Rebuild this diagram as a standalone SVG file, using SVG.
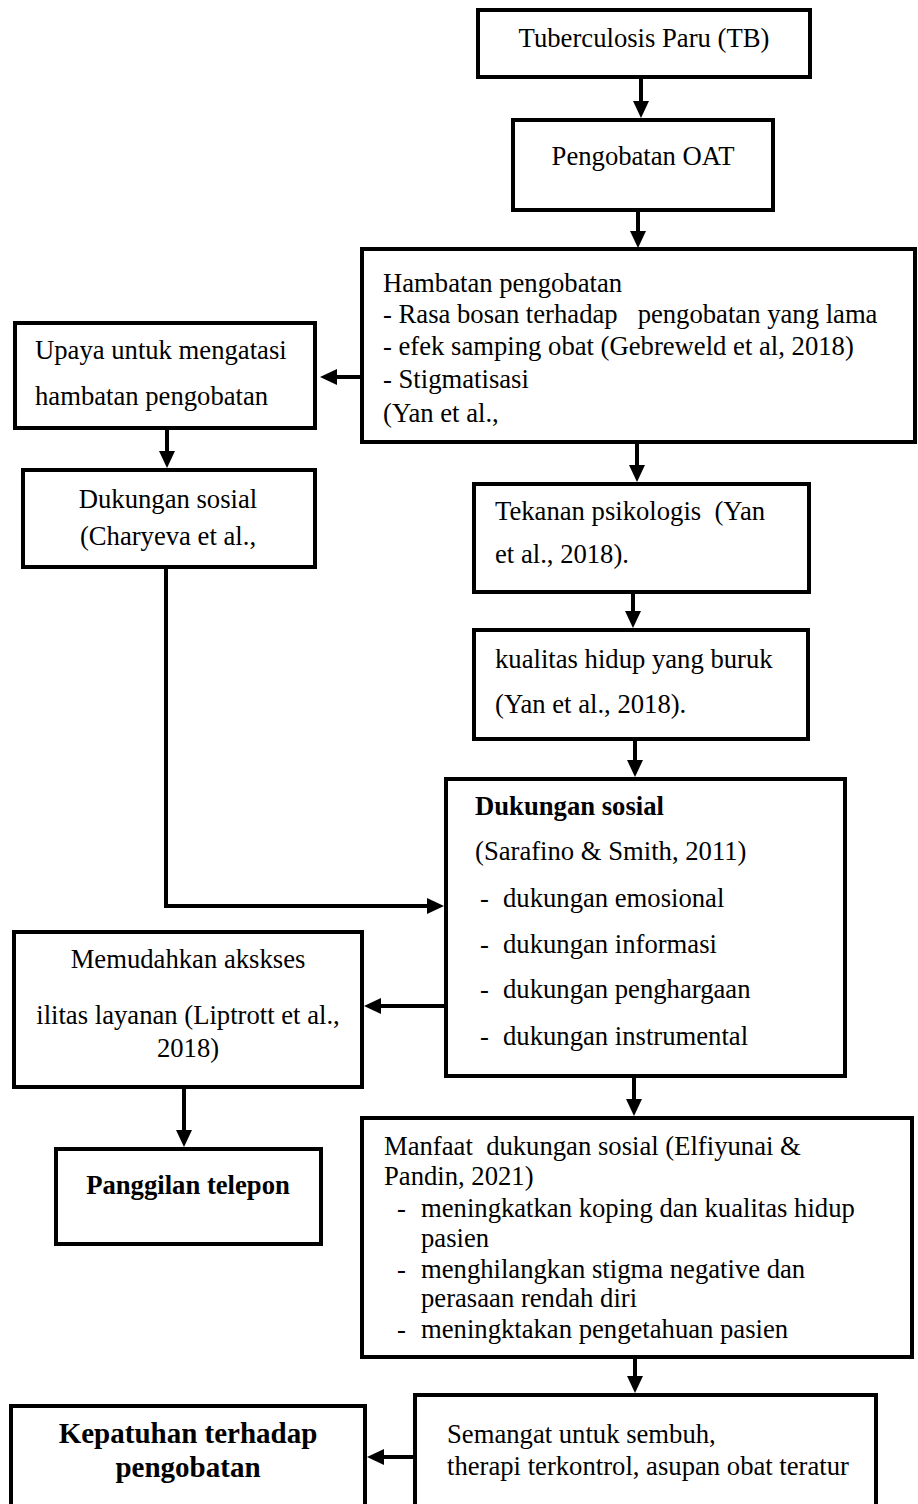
<svg xmlns="http://www.w3.org/2000/svg" width="918" height="1504" viewBox="0 0 918 1504">
<style>
.box{fill:#fff;stroke:#000;stroke-width:4}
.t{font-family:"Liberation Serif","Times New Roman",serif;font-size:26.67px;fill:#000;white-space:pre}
.c{text-anchor:middle}
.b{font-weight:bold}
.ln{fill:none;stroke:#000;stroke-width:4}
</style>
<defs>
<marker id="ah" markerUnits="userSpaceOnUse" markerWidth="17" markerHeight="16" refX="7" refY="8" orient="auto">
<path d="M0,0 L17,8 L0,16 z" fill="#000"/>
</marker>
</defs>
<rect width="918" height="1504" fill="#fff"/>

<g id="n1"><rect class="box" x="478" y="10" width="332" height="67"/><text class="t c" x="644" y="47">Tuberculosis Paru (TB)</text></g>
<g id="n2"><rect class="box" x="513" y="120" width="260" height="90"/><text class="t c" x="643" y="165">Pengobatan OAT</text></g>
<g id="n3"><rect class="box" x="362" y="249" width="553" height="193"/>
<text class="t" x="383" y="292">Hambatan pengobatan</text>
<text class="t" x="383" y="323">- Rasa bosan terhadap   pengobatan yang lama</text>
<text class="t" x="383" y="355">- efek samping obat (Gebreweld et al, 2018)</text>
<text class="t" x="383" y="388">- Stigmatisasi</text>
<text class="t" x="383" y="422">(Yan et al.,</text></g>
<g id="n4"><rect class="box" x="15" y="323" width="300" height="105"/>
<text class="t" x="35" y="359">Upaya untuk mengatasi</text>
<text class="t" x="35" y="405">hambatan pengobatan</text></g>
<g id="n5"><rect class="box" x="23" y="470" width="292" height="97"/>
<text class="t c" x="168" y="508">Dukungan sosial</text>
<text class="t c" x="168" y="545">(Charyeva et al.,</text></g>
<g id="n6"><rect class="box" x="474" y="484" width="335" height="108"/>
<text class="t" x="495" y="520">Tekanan psikologis  (Yan</text>
<text class="t" x="495" y="563">et al., 2018).</text></g>
<g id="n7"><rect class="box" x="474" y="630" width="334" height="109"/>
<text class="t" x="495" y="668">kualitas hidup yang buruk</text>
<text class="t" x="495" y="713">(Yan et al., 2018).</text></g>
<g id="n8"><rect class="box" x="446" y="779" width="399" height="297"/>
<text class="t b" x="475" y="815">Dukungan sosial</text>
<text class="t" x="475" y="860">(Sarafino &amp; Smith, 2011)</text>
<text class="t" x="480" y="907">-</text><text class="t" x="503" y="907">dukungan emosional</text>
<text class="t" x="480" y="953">-</text><text class="t" x="503" y="953">dukungan informasi</text>
<text class="t" x="480" y="998">-</text><text class="t" x="503" y="998">dukungan penghargaan</text>
<text class="t" x="480" y="1045">-</text><text class="t" x="503" y="1045">dukungan instrumental</text></g>
<g id="n9"><rect class="box" x="14" y="932" width="348" height="155"/>
<text class="t c" x="188" y="968">Memudahkan akskses</text>
<text class="t c" x="188" y="1024">ilitas layanan (Liptrott et al.,</text>
<text class="t c" x="188" y="1057">2018)</text></g>
<g id="n10"><rect class="box" x="56" y="1149" width="265" height="95"/>
<text class="t c b" x="188" y="1194">Panggilan telepon</text></g>
<g id="n11"><rect class="box" x="362" y="1118" width="550" height="239"/>
<text class="t" x="384" y="1155">Manfaat  dukungan sosial (Elfiyunai &amp;</text>
<text class="t" x="384" y="1185">Pandin, 2021)</text>
<text class="t" x="397" y="1217">-</text><text class="t" x="421" y="1217">meningkatkan koping dan kualitas hidup</text>
<text class="t" x="421" y="1247">pasien</text>
<text class="t" x="397" y="1278">-</text><text class="t" x="421" y="1278">menghilangkan stigma negative dan</text>
<text class="t" x="421" y="1307">perasaan rendah diri</text>
<text class="t" x="397" y="1338">-</text><text class="t" x="421" y="1338">meningktakan pengetahuan pasien</text></g>
<g id="n12"><rect class="box" x="415" y="1395" width="461" height="130"/>
<text class="t" x="447" y="1443">Semangat untuk sembuh,</text>
<text class="t" x="447" y="1475">therapi terkontrol, asupan obat teratur</text></g>
<g id="n13"><rect class="box" x="11" y="1406" width="354" height="130"/>
<text class="t c b" x="188" y="1443" style="font-size:29px">Kepatuhan terhadap</text>
<text class="t c b" x="188" y="1477" style="font-size:29px">pengobatan</text></g>

<g id="connectors">
<line class="ln" x1="641" y1="79" x2="641" y2="108" marker-end="url(#ah)"/>
<line class="ln" x1="638" y1="212" x2="638" y2="238" marker-end="url(#ah)"/>
<line class="ln" x1="360" y1="377" x2="330" y2="377" marker-end="url(#ah)"/>
<line class="ln" x1="167" y1="430" x2="167" y2="458" marker-end="url(#ah)"/>
<line class="ln" x1="637" y1="444" x2="637" y2="472" marker-end="url(#ah)"/>
<line class="ln" x1="633" y1="594" x2="633" y2="618" marker-end="url(#ah)"/>
<line class="ln" x1="635" y1="741" x2="635" y2="767" marker-end="url(#ah)"/>
<polyline class="ln" points="166,569 166,906 434,906" marker-end="url(#ah)"/>
<line class="ln" x1="444" y1="1006" x2="374" y2="1006" marker-end="url(#ah)"/>
<line class="ln" x1="184" y1="1089" x2="184" y2="1137" marker-end="url(#ah)"/>
<line class="ln" x1="634" y1="1078" x2="634" y2="1106" marker-end="url(#ah)"/>
<line class="ln" x1="635" y1="1359" x2="635" y2="1383" marker-end="url(#ah)"/>
<line class="ln" x1="413" y1="1457" x2="377" y2="1457" marker-end="url(#ah)"/>
</g>
</svg>
